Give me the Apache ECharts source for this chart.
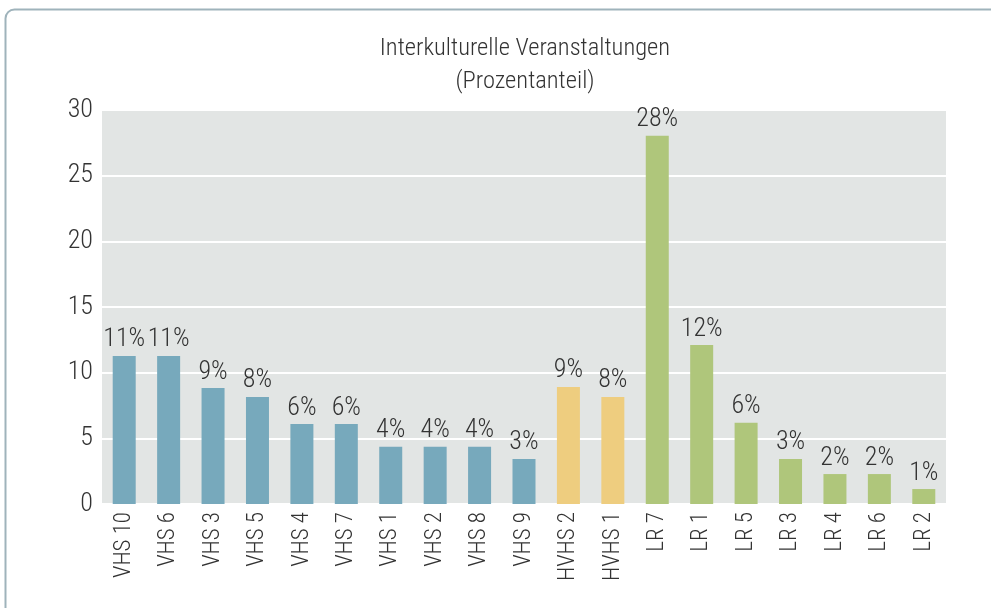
<!DOCTYPE html>
<html>
<head>
<meta charset="utf-8">
<script src="https://cdn.jsdelivr.net/npm/echarts@6/dist/echarts.min.js"></script>
<style>
html,body{margin:0;padding:0;background:#fff;}
#chart{width:991px;height:608px;}
</style>
</head>
<body>
<div id="chart"></div>
<script>
const categories = ['VHS 10','VHS 6','VHS 3','VHS 5','VHS 4','VHS 7','VHS 1','VHS 2','VHS 8','VHS 9','HVHS 2','HVHS 1','LR 7','LR 1','LR 5','LR 3','LR 4','LR 6','LR 2'];
const values = [11.27, 11.27, 8.83, 8.15, 6.09, 6.09, 4.36, 4.36, 4.36, 3.43, 8.91, 8.15, 28.03, 12.1, 6.19, 3.43, 2.28, 2.28, 1.14];
const groups = ['VHS','VHS','VHS','VHS','VHS','VHS','VHS','VHS','VHS','VHS','HVHS','HVHS','LR','LR','LR','LR','LR','LR','LR'];
const yTicks = [0, 5, 10, 15, 20, 25, 30];
const groupColors = {VHS: '#77a9bc', HVHS: '#eecd7f', LR: '#afc67b'};
const FONT = '"Roboto Condensed", "DejaVu Sans Condensed", sans-serif';
const W = 300;

const chart = echarts.init(document.getElementById('chart'));
chart.setOption({
  animation: false,
  textStyle: {fontFamily: FONT, fontWeight: W},
  graphic: [{
    type: 'rect', z: -10,
    shape: {x: 5.5, y: 9.5, width: 1100, height: 800, r: 9},
    style: {fill: '#ffffff', stroke: '#9fb3bb', lineWidth: 2}
  }],
  title: {
    text: 'Interkulturelle Veranstaltungen\n(Prozentanteil)',
    left: 520, textAlign: 'center', top: 27,
    textStyle: {fontFamily: FONT, fontSize: 24.5, fontWeight: W, color: '#333', lineHeight: 33}
  },
  grid: {left: 102, right: 45, top: 110, bottom: 104, show: true, backgroundColor: '#e2e5e4', borderWidth: 0},
  xAxis: {
    type: 'category', data: categories,
    axisLine: {show: false}, axisTick: {show: false},
    axisLabel: {rotate: 90, fontSize: 23, color: '#333', margin: 8, fontFamily: FONT, fontWeight: W}
  },
  yAxis: {
    type: 'value', min: yTicks[0], max: yTicks[yTicks.length - 1], interval: 5,
    axisLine: {show: false}, axisTick: {show: false},
    axisLabel: {fontSize: 26, color: '#333', margin: 9, fontFamily: FONT, fontWeight: W},
    splitLine: {lineStyle: {color: '#ffffff', width: 2}}
  },
  series: [{
    type: 'bar', barWidth: 23,
    data: values.map((v, i) => ({value: v, itemStyle: {color: groupColors[groups[i]]}})),
    label: {
      show: true, position: 'top', distance: 3,
      fontSize: 26, color: '#333', fontFamily: FONT, fontWeight: W,
      formatter: p => Math.round(p.value) + '%'
    }
  }]
});
</script>
</body>
</html>
